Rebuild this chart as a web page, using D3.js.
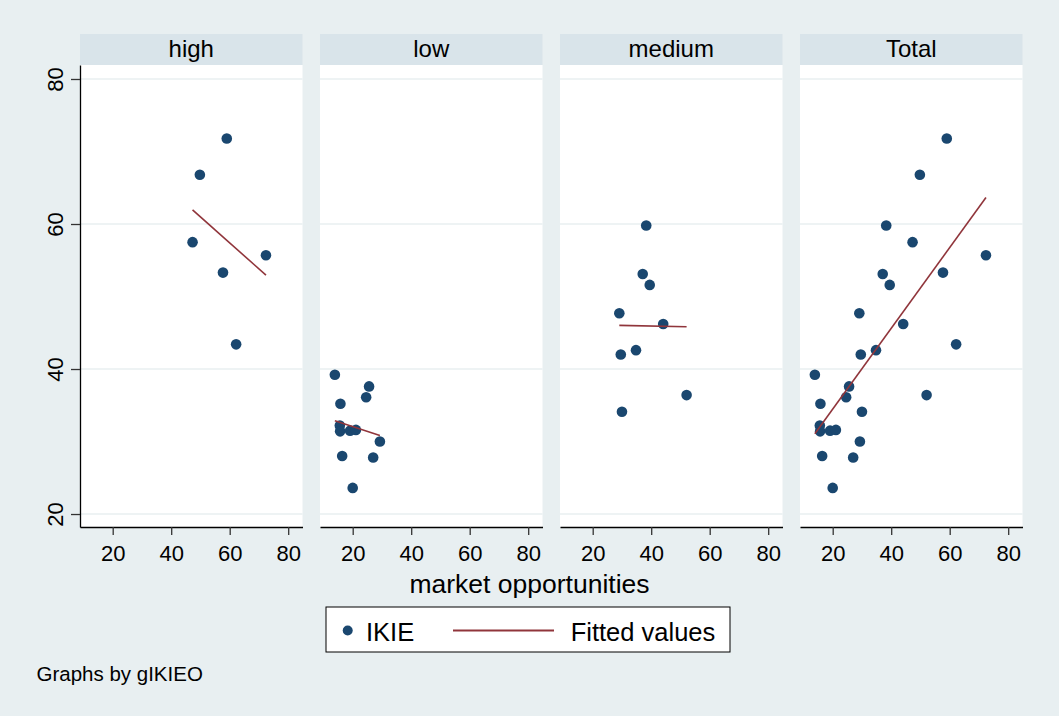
<!DOCTYPE html>
<html>
<head>
<meta charset="utf-8">
<script src="https://cdn.jsdelivr.net/npm/d3@7"></script>
<style>
  body { margin: 0; background: #e8eff1; }
  text { font-family: "Liberation Sans", Arial, sans-serif; fill: #000; }
</style>
</head>
<body>
<script>
// data
var groups = ["high", "low", "medium", "Total"];

var highX = [59.0, 49.8, 47.3, 72.4, 57.7, 62.2];
var highY = [71.8, 66.8, 57.5, 55.7, 53.3, 43.4];

var lowX = [13.9, 25.6, 24.6, 15.8, 15.6, 15.7, 19.1, 21.1, 29.3, 16.4, 27.0, 20.0];
var lowY = [39.2, 37.6, 36.1, 35.2, 32.2, 31.4, 31.5, 31.6, 30.0, 28.0, 27.8, 23.6];

var medX = [38.3, 37.1, 39.5, 29.1, 44.1, 34.8, 29.6, 52.1, 30.0];
var medY = [59.8, 53.1, 51.6, 47.7, 46.2, 42.6, 42.0, 36.4, 34.1];

var xTicks = [20, 40, 60, 80];
var yTicks = [20, 40, 60, 80];
var legendLabels = ["IKIE", "Fitted values"];
var xTitle = "market opportunities";
var note = "Graphs by gIKIEO";

var width = 1059;
var height = 716;

var navy = "#1a476f";
var maroon = "#90353b";

function pairs(xs, ys) {
    var out = [];
    for (var i = 0; i < xs.length; i++) out.push({x: xs[i], y: ys[i]});
    return out;
}

var panels = {
    high: pairs(highX, highY),
    low: pairs(lowX, lowY),
    medium: pairs(medX, medY)
};
panels.Total = panels.high.concat(panels.low, panels.medium);

// simple OLS for the fitted line
function fit(pts) {
    var mx = d3.mean(pts, function(d) { return d.x; });
    var my = d3.mean(pts, function(d) { return d.y; });
    var sxy = 0, sxx = 0;
    pts.forEach(function(d) {
        sxy += (d.x - mx) * (d.y - my);
        sxx += (d.x - mx) * (d.x - mx);
    });
    var b = sxy / sxx;
    var a = my - b * mx;
    var ext = d3.extent(pts, function(d) { return d.x; });
    return [{x: ext[0], y: a + b * ext[0]}, {x: ext[1], y: a + b * ext[1]}];
}

var svg = d3.select("body")
    .append("svg")
    .attr("width", width)
    .attr("height", height);

svg.append("rect")
    .attr("width", width)
    .attr("height", height)
    .attr("fill", "#e8eff1");

var plotTop = 65, plotBottom = 527;
var panelW = 222.5, panelStep = 240, firstLeft = 80;

var y = d3.scaleLinear()
    .domain([18.21, 81.93])
    .range([plotBottom, plotTop]);

groups.forEach(function(name, i) {
    var left = firstLeft + i * panelStep;
    var x = d3.scaleLinear()
        .domain([8.82, 84.89])
        .range([left, left + panelW]);

    var g = svg.append("g").attr("class", "panel");

    // strip
    g.append("rect")
        .attr("x", left)
        .attr("y", 34)
        .attr("width", panelW)
        .attr("height", plotTop - 34)
        .attr("fill", "#d9e4ea");
    g.append("text")
        .attr("x", left + panelW / 2)
        .attr("y", 57)
        .attr("text-anchor", "middle")
        .attr("font-size", "24px")
        .text(name);

    // plot region
    g.append("rect")
        .attr("x", left)
        .attr("y", plotTop)
        .attr("width", panelW)
        .attr("height", plotBottom - plotTop)
        .attr("fill", "#fff");

    g.selectAll(".grid")
        .data(yTicks)
        .enter().append("line")
        .attr("x1", left)
        .attr("x2", left + panelW)
        .attr("y1", function(d) { return y(d); })
        .attr("y2", function(d) { return y(d); })
        .attr("stroke", "#e8eff1")
        .attr("stroke-width", 1.6);

    var xa = g.append("g")
        .attr("transform", "translate(0," + plotBottom + ")")
        .call(d3.axisBottom(x).tickValues(xTicks).tickSize(8).tickPadding(10).tickSizeOuter(0));
    xa.select(".domain").attr("stroke", "#000").attr("stroke-width", 1.3);
    xa.selectAll(".tick line").attr("stroke", "#333").attr("stroke-width", 1.3);
    xa.selectAll("text").attr("font-size", "22px").attr("fill", "#000")
        .style("font-family", "'Liberation Sans', Arial, sans-serif");

    if (i === 0) {
        var ya = g.append("g")
            .attr("transform", "translate(" + left + ",0)")
            .call(d3.axisLeft(y).tickValues(yTicks).tickSize(9).tickSizeOuter(0));
        ya.select(".domain").attr("stroke", "#000").attr("stroke-width", 1.3);
        ya.selectAll(".tick line").attr("stroke", "#333").attr("stroke-width", 1.3);
        ya.selectAll("text")
            .attr("x", 0)
            .attr("y", -17)
            .attr("dy", 0)
            .attr("transform", "rotate(-90)")
            .attr("text-anchor", "middle")
            .attr("font-size", "22px")
            .attr("fill", "#000")
            .style("font-family", "'Liberation Sans', Arial, sans-serif");
    }

    var pts = panels[name];

    g.selectAll(".dot")
        .data(pts)
        .enter().append("circle")
        .attr("cx", function(d) { return x(d.x); })
        .attr("cy", function(d) { return y(d.y); })
        .attr("r", 5.3)
        .attr("fill", navy);

    var line = d3.line()
        .x(function(d) { return x(d.x); })
        .y(function(d) { return y(d.y); });

    g.append("path")
        .datum(fit(pts))
        .attr("d", line)
        .attr("fill", "none")
        .attr("stroke", maroon)
        .attr("stroke-width", 1.6);
});

// axis title
svg.append("text")
    .attr("x", width / 2)
    .attr("y", 593)
    .attr("text-anchor", "middle")
    .attr("font-size", "26.5px")
    .text(xTitle);

// legend
var lg = svg.append("g");
lg.append("rect")
    .attr("x", 326)
    .attr("y", 607)
    .attr("width", 404)
    .attr("height", 45)
    .attr("fill", "#fff")
    .attr("stroke", "#000")
    .attr("stroke-width", 1);
lg.append("circle")
    .attr("cx", 347.7)
    .attr("cy", 630.5)
    .attr("r", 5)
    .attr("fill", navy);
lg.append("text")
    .attr("x", 366)
    .attr("y", 641)
    .attr("font-size", "25.5px")
    .text(legendLabels[0]);
lg.append("line")
    .attr("x1", 453)
    .attr("x2", 554)
    .attr("y1", 630.5)
    .attr("y2", 630.5)
    .attr("stroke", maroon)
    .attr("stroke-width", 2);
lg.append("text")
    .attr("x", 570.7)
    .attr("y", 641)
    .attr("font-size", "25.5px")
    .text(legendLabels[1]);

// note
svg.append("text")
    .attr("x", 36.5)
    .attr("y", 681)
    .attr("font-size", "20.5px")
    .text(note);
</script>
</body>
</html>
